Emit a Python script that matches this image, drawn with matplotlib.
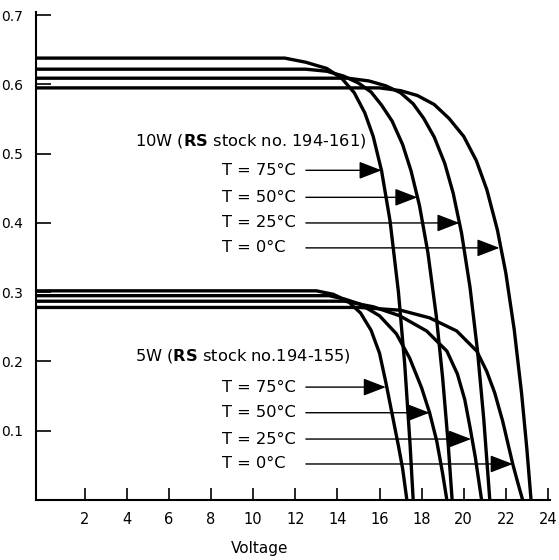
import matplotlib
matplotlib.use("Agg")
import matplotlib.pyplot as plt

plt.rcParams['font.family'] = ['DejaVu Sans']
plt.rcParams['mathtext.fontset'] = 'dejavusans'

# ---- data (Voltage V, Current A) ----
v10_75 = [-0.3, 11.5, 12.5, 13.5, 14.2, 14.8, 15.3, 15.7, 16.1, 16.5, 16.9, 17.2, 17.45, 17.6]
i10_75 = [0.638, 0.638, 0.632, 0.623, 0.609, 0.588, 0.559, 0.525, 0.475, 0.403, 0.300, 0.195, 0.081, 0.0]

v10_50 = [-0.3, 12.5, 13.5, 14.3, 15.0, 15.6, 16.1, 16.6, 17.1, 17.5, 17.9, 18.3, 18.7, 19.0, 19.25, 19.45]
i10_50 = [0.622, 0.622, 0.619, 0.612, 0.602, 0.589, 0.570, 0.547, 0.513, 0.475, 0.425, 0.357, 0.265, 0.176, 0.086, 0.0]

v10_25 = [-0.3, 14.5, 15.5, 16.3, 17.0, 17.6, 18.1, 18.6, 19.1, 19.5, 19.9, 20.3, 20.65, 20.95, 21.24]
i10_25 = [0.609, 0.609, 0.605, 0.598, 0.588, 0.572, 0.551, 0.524, 0.486, 0.443, 0.385, 0.307, 0.217, 0.118, 0.0]

v10_0 = [-0.3, 16.0, 17.0, 17.8, 18.6, 19.3, 20.0, 20.6, 21.1, 21.6, 22.0, 22.4, 22.75, 23.0, 23.2]
i10_0 = [0.595, 0.595, 0.591, 0.584, 0.571, 0.551, 0.525, 0.490, 0.448, 0.390, 0.328, 0.246, 0.154, 0.074, 0.0]

v5_75 = [-0.3, 13.0, 13.8, 14.5, 15.1, 15.6, 16.0, 16.3, 16.6, 16.9, 17.1, 17.3]
i5_75 = [0.302, 0.302, 0.297, 0.287, 0.270, 0.245, 0.212, 0.170, 0.124, 0.078, 0.045, 0.0]

v5_50 = [-0.3, 13.6, 14.35, 15.06, 16.0, 16.8, 17.43, 18.0, 18.38, 18.72, 19.0, 19.2]
i5_50 = [0.295, 0.295, 0.290, 0.283, 0.266, 0.240, 0.205, 0.162, 0.126, 0.085, 0.038, 0.0]

v5_25 = [-0.3, 14.35, 15.7, 16.96, 18.24, 19.2, 19.7, 20.05, 20.3, 20.55, 20.85]
i5_25 = [0.287, 0.287, 0.279, 0.266, 0.244, 0.215, 0.182, 0.145, 0.105, 0.062, 0.0]

v5_0 = [-0.3, 15.06, 17.0, 18.38, 19.67, 20.62, 21.09, 21.47, 21.85, 22.33, 22.57, 22.8]
i5_0 = [0.278, 0.278, 0.274, 0.263, 0.244, 0.215, 0.186, 0.155, 0.114, 0.052, 0.025, 0.0]

temps = ["T = 75°C", "T = 50°C", "T = 25°C", "T = 0°C"]
arrow_y_10 = [0.476, 0.437, 0.400, 0.364]
arrow_tip_10 = [16.1, 17.8, 19.8, 21.7]
arrow_y_5 = [0.163, 0.126, 0.088, 0.052]
arrow_tip_5 = [16.3, 18.38, 20.35, 22.33]
arrow_start = 12.5
label_x = 8.5
title10 = r"10W ($\mathbf{RS}$ stock no. 194-161)"
title5 = r"5W ($\mathbf{RS}$ stock no.194-155)"
title_x = 4.37
title10_y = 0.519
title5_y = 0.208
xticks = [2, 4, 6, 8, 10, 12, 14, 16, 18, 20, 22, 24]
yticks = [0.1, 0.2, 0.3, 0.4, 0.5, 0.6, 0.7]

fig = plt.figure(figsize=(5.59, 5.6), dpi=100)
ax = fig.add_axes([36/559, 1 - 500/560, (550 - 36)/559, (500 - 11.7)/560])

for v, i in [(v10_75, i10_75), (v10_50, i10_50), (v10_25, i10_25), (v10_0, i10_0),
             (v5_75, i5_75), (v5_50, i5_50), (v5_25, i5_25), (v5_0, i5_0)]:
    ax.plot(v, i, color='black', lw=2.4, solid_capstyle='butt', solid_joinstyle='round')

astyle = dict(arrowstyle='-|>,head_length=0.7,head_width=0.27', color='black',
              lw=1.0, shrinkA=0, shrinkB=0, mutation_scale=20)
for t, y, tip in zip(temps, arrow_y_10, arrow_tip_10):
    ax.text(label_x, y, t, fontsize=11.7, va='center', ha='left')
    ax.annotate('', xy=(tip, y), xytext=(arrow_start, y), arrowprops=astyle)
for t, y, tip in zip(temps, arrow_y_5, arrow_tip_5):
    ax.text(label_x, y, t, fontsize=11.7, va='center', ha='left')
    ax.annotate('', xy=(tip, y), xytext=(arrow_start, y), arrowprops=astyle)

ax.text(title_x, title10_y, title10, fontsize=11.7, va='center', ha='left')
ax.text(title_x, title5_y, title5, fontsize=11.7, va='center', ha='left')

ax.set_xlim(-0.32, 24.1)
ax.set_ylim(0, 0.705)
ax.set_xticks(xticks)
ax.set_yticks(yticks)
ax.set_xticklabels([str(x) for x in xticks])
ax.set_yticklabels([f"{y:.1f}" for y in yticks])
ax.spines['top'].set_visible(False)
ax.spines['right'].set_visible(False)
ax.spines['left'].set_linewidth(1.5)
ax.spines['bottom'].set_linewidth(1.5)
ax.tick_params(axis='x', direction='in', length=9, width=1.2, pad=9, labelsize=10.5)
ax.tick_params(axis='y', direction='in', length=11, width=1.2, pad=9.4, labelsize=10)

fig.text(260/559, 1 - 548/560, 'Voltage', ha='center', va='center', fontsize=11)

fig.savefig('out.png', dpi=100, facecolor='white')
